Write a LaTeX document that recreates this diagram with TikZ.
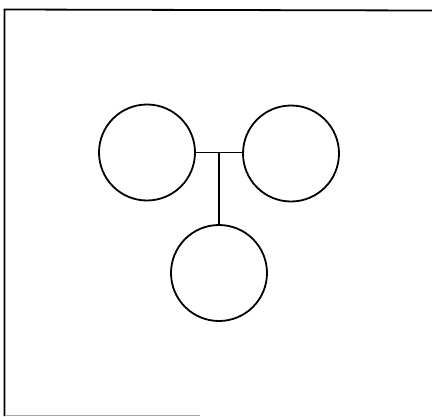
\documentclass[tikz,border=0pt]{standalone}
\begin{document}
\begin{tikzpicture}[x=1pt,y=-1pt,
  ring/.style={circle,draw,line width=1.8pt,minimum size=96pt,inner sep=0pt},
  link/.style={line width=1.8pt},
  frame/.style={line width=1.8pt}]
\useasboundingbox (0,0) rectangle (432,416);
\draw[frame] (4.5,416) -- (4.5,9.5) -- (432,10.5);
\draw[line width=1pt,black!35] (4.5,415) -- (200,415);
\node[ring] (L) at (147,152.5) {};
\node[ring] (R) at (291,153.5) {};
\node[ring] (B) at (219,273) {};
\coordinate (jl) at (L.east);
\draw[link] (L.east) -- (R.west |- jl);
\coordinate (j) at (219,152.5);
\draw[link] (j) -- (B.north);
\end{tikzpicture}
\end{document}
